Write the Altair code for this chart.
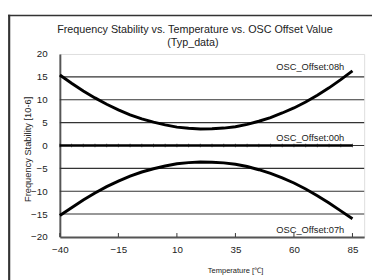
import altair as alt
import pandas as pd

temps = [-40, -35, -30, -25, -20, -15, -10, -5, 0, 5, 10, 15, 20, 25, 30, 35, 40, 45, 50, 55, 60, 65, 70, 75, 80, 85]
offset_08h = [15.4, 13.6, 11.9, 10.4, 9.0, 7.8, 6.7, 5.8, 5.1, 4.5, 4.0, 3.75, 3.6, 3.65, 3.8, 4.1, 4.6, 5.3, 6.1, 7.1, 8.2, 9.5, 11.0, 12.6, 14.4, 16.3]
offset_00h = [0.0] * len(temps)
offset_07h = [-15.3, -13.6, -11.9, -10.4, -9.0, -7.8, -6.7, -5.8, -5.1, -4.5, -4.0, -3.75, -3.6, -3.65, -3.8, -4.1, -4.6, -5.3, -6.1, -7.1, -8.2, -9.5, -11.0, -12.6, -14.3, -16.0]

x_ticks = [-40, -15, 10, 35, 60, 85]
y_ticks = [-20, -15, -10, -5, 0, 5, 10, 15, 20]
grid_values = [-15, -10, -5, 0, 5, 10, 15]

label_names = ["OSC_Offset:08h", "OSC_Offset:00h", "OSC_Offset:07h"]
label_x = [81.5, 81.5, 81.5]
label_y = [17.2, 1.6, -18.5]

FONT = "Liberation Sans"

curves = pd.DataFrame({
    "temp": temps * 3,
    "val": offset_08h + offset_00h + offset_07h,
    "series": ["08h"] * len(temps) + ["00h"] * len(temps) + ["07h"] * len(temps),
})
mid = pd.DataFrame({"temp": temps, "val": offset_00h})
labels = pd.DataFrame({"name": label_names, "x": label_x, "y": label_y})
ticks = pd.DataFrame({"t": x_ticks})
grid = pd.DataFrame({"g": grid_values})
one = pd.DataFrame({"a": [0]})

xscale = alt.Scale(domain=[-40, 90], nice=False, zero=False)
yscale = alt.Scale(domain=[-20, 20], nice=False, zero=False)

xaxis = alt.Axis(
    values=x_ticks, grid=False, ticks=False, labelPadding=8, labelFontSize=10,
    labelFont=FONT, labelColor="#222", domainColor="#555", domainWidth=2,
    title="Temperature [℃]", titleFont=FONT, titleFontSize=7.7, titleFontWeight="normal",
    titleColor="#222", titleX=179, titleY=34, titleBaseline="middle", titleAlign="center",
    labelFlush=False, labelOverlap=False,
)
yaxis = alt.Axis(
    values=y_ticks, grid=False, ticks=False,
    labelPadding=13, labelFontSize=10, labelFont=FONT, labelColor="#222",
    domainColor="#555", domainWidth=2, labelOverlap=False, labelFlush=False,
    title="Frequency Stability [10-6]", titleFont=FONT, titleFontSize=9.5,
    titleFontWeight="normal", titleColor="#222", titleX=-33, titleY=97,
    titleBaseline="middle", titleAlign="center", titleAngle=-90,
)

X = lambda f: alt.X(f, scale=xscale, axis=xaxis)
Y = lambda f: alt.Y(f, scale=yscale, axis=yaxis)

gridlines = alt.Chart(grid).mark_rule(color="#333", strokeWidth=1.1).encode(
    y=Y("g:Q"), x=alt.value(0), x2=alt.value(311)
)

lines = alt.Chart(curves).transform_filter(alt.datum.series != "00h").mark_line(
    color="black", strokeWidth=3
).encode(x=X("temp:Q"), y=Y("val:Q"), detail="series:N")

mid_line = alt.Chart(mid).mark_line(color="black", strokeWidth=2.5).encode(
    x=X("temp:Q"), y=Y("val:Q")
)
mid_pts = alt.Chart(mid).mark_tick(color="#111", size=3.5, thickness=1, orient="vertical").encode(
    x=X("temp:Q"), y=Y("val:Q")
)

xticks_in = alt.Chart(ticks).mark_rule(color="#333", strokeWidth=1).encode(
    x=X("t:Q"), y=alt.value(187), y2=alt.value(183)
)

text = alt.Chart(labels).mark_text(
    align="right", baseline="middle", font=FONT, fontSize=9.5, color="#222"
).encode(x=X("x:Q"), y=Y("y:Q"), text="name:N")

title1 = alt.Chart(one).mark_text(
    text="Frequency Stability vs. Temperature vs. OSC Offset Value",
    font=FONT, fontSize=11, color="#222", align="center", baseline="middle",
).encode(x=alt.value(138), y=alt.value(-24.3))
title2 = alt.Chart(one).mark_text(
    text="(Typ_data)", font=FONT, fontSize=11, color="#222", align="center", baseline="middle",
).encode(x=alt.value(136), y=alt.value(-11))

frame_left = alt.Chart(one).mark_rule(color="#333", strokeWidth=2.2).encode(
    x=alt.value(-51.8), y=alt.value(-40), y2=alt.value(240)
)
frame_top = alt.Chart(one).mark_rule(color="#333", strokeWidth=1.4).encode(
    x=alt.value(-53), x2=alt.value(330), y=alt.value(-39.3)
)

chart = alt.layer(
    gridlines, lines, mid_line, mid_pts, xticks_in, text, title1, title2, frame_left, frame_top
).properties(
    width=311, height=187,
    autosize=alt.AutoSizeParams(type="none"),
    padding={"left": 53, "top": 44, "right": 8, "bottom": 41},
).configure_view(stroke="#777", strokeWidth=1).configure(background="white")

chart.save("out.html", embed_options={"renderer": "svg", "actions": False})
